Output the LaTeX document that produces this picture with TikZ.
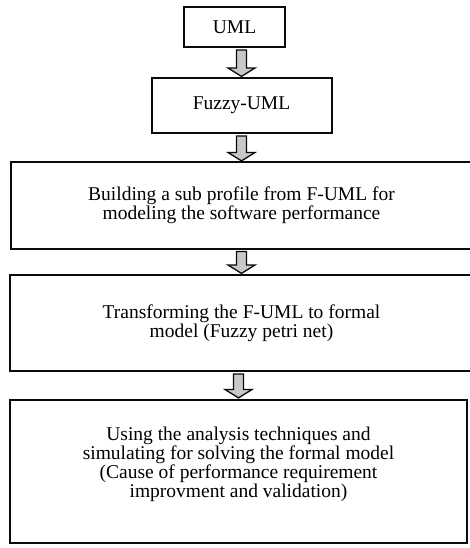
\documentclass[tikz,border=0pt]{standalone}
\usepackage{fontspec}
\setmainfont{Liberation Serif}
\usepackage{tikz}
\usetikzlibrary{positioning, calc}
\definecolor{arrowgray}{RGB}{200,200,200}
\definecolor{boxline}{RGB}{10,10,10}

% hollow block arrow from the bottom of #1 to the top of #2
\newcommand{\flowarrow}[2]{%
  \path[draw=boxline, line width=1.3pt, fill=arrowgray, line join=miter]
    let \p1=(#1.south), \p2=(#2.north) in
    (\x2-5pt,\y1-2pt) -- (\x2+5pt,\y1-2pt) -- (\x2+5pt,\y2+9pt) -- (\x2+13.5pt,\y2+9pt)
    -- (\x2,\y2+0.6pt) -- (\x2-13.5pt,\y2+9pt) -- (\x2-5pt,\y2+9pt) -- cycle;}

\begin{document}
\begin{tikzpicture}[
  x=1pt, y=1pt,
  stepbox/.style={rectangle, draw=boxline, line width=2pt, align=center,
                  inner sep=0pt, font=\fontsize{19.5}{17.5}\selectfont},
  node distance=28pt
]
  \useasboundingbox (0,0) rectangle (469,-548);

  \node[stepbox, minimum width=101pt, minimum height=40pt] (uml) at (234.5,-27) {UML};
  \node[stepbox, minimum width=180pt, minimum height=55pt, below=29pt of uml, xshift=7pt] (fuzzy) {Fuzzy-UML};
  \node[stepbox, minimum width=461pt, minimum height=86pt, below=27.5pt of fuzzy] (profile)
    {Building a sub profile from F-UML for\\modeling the software performance};
  \node[stepbox, minimum width=463pt, minimum height=96pt, below=24.5pt of profile] (formal)
    {Transforming the F-UML to formal\\model (Fuzzy petri net)};
  % text sits a little above the middle of this box
  \node[stepbox, minimum width=457pt, minimum height=143pt, text depth=18pt,
        below=26.5pt of formal, xshift=-3pt] (solve)
    {Using the analysis techniques and\\simulating for solving the formal model\\(Cause of performance requirement\\improvment and validation)};

  \flowarrow{uml}{fuzzy}
  \flowarrow{fuzzy}{profile}
  \flowarrow{profile}{formal}
  \flowarrow{formal}{solve}
\end{tikzpicture}
\end{document}
